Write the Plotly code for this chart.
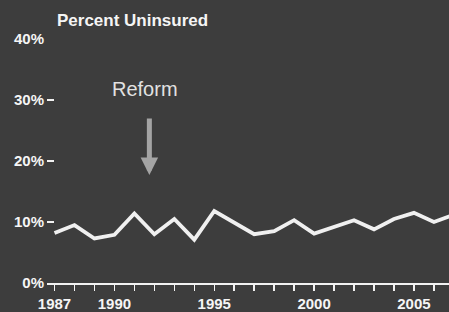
import plotly.graph_objects as go

years = list(range(1987, 2008))
uninsured_pct = [8.2, 9.5, 7.3, 7.9, 11.4, 8.0, 10.5, 7.1, 11.8, 9.9, 8.0,
                 8.5, 10.3, 8.1, 9.2, 10.3, 8.8, 10.5, 11.5, 10.0, 11.2]
x_tick_vals = [1987, 1990, 1995, 2000, 2005]
x_tick_text = ["1987", "1990", "1995", "2000", "2005"]
y_tick_vals = [0, 10, 20, 30, 40]
y_tick_text = ["0%", "10%", "20%", "30%", "40%"]
title_text = "Percent Uninsured"
reform_label = "Reform"
reform_year = 1991.75

FONT = "Liberation Sans, Arial, Helvetica, sans-serif"
BG = "#3d3d3d"

fig = go.Figure()
fig.add_trace(go.Scatter(
    x=years, y=uninsured_pct, mode="lines",
    line=dict(color="#f0f0f0", width=3.8), hoverinfo="skip", showlegend=False,
))

fig.update_layout(
    width=449, height=312,
    margin=dict(l=47, r=0, t=39, b=29, pad=0),
    paper_bgcolor=BG, plot_bgcolor=BG,
    font=dict(family=FONT, color="#f5f5f5"),
    xaxis=dict(
        range=[1986.624, 2006.755], showgrid=False, zeroline=False,
        showline=True, linecolor="#f2f2f2", linewidth=2,
        tickmode="array", tickvals=x_tick_vals, ticktext=x_tick_text,
        ticks="outside", ticklen=6, tickwidth=1.5, tickcolor="#f2f2f2",
        tickfont=dict(family=FONT, size=15, color="#f5f5f5", weight="bold"),
        minor=dict(dtick=1, tick0=1987, ticks="outside", ticklen=6,
                   tickwidth=1.5, tickcolor="#f2f2f2", showgrid=False),
        fixedrange=True,
    ),
    yaxis=dict(
        range=[0, 40], showgrid=False, zeroline=False, showline=False,
        tickmode="array", tickvals=y_tick_vals, ticktext=y_tick_text,
        ticks="inside", ticklen=7, tickwidth=1.5, tickcolor="#f2f2f2",
        ticklabelstandoff=2,
        tickfont=dict(family=FONT, size=15, color="#f5f5f5", weight="bold"),
        fixedrange=True,
    ),
    annotations=[
        dict(text=title_text, xref="paper", yref="paper",
             x=(55 - 47) / 402, y=1 + (39 - 20) / 244,
             xanchor="left", yanchor="middle", showarrow=False,
             font=dict(family=FONT, size=17, color="#f5f5f5", weight="bold")),
        dict(text=reform_label, x=1991.53, y=31.8, xref="x", yref="y",
             xanchor="center", yanchor="middle", showarrow=False,
             font=dict(family=FONT, size=20, color="#e2e2e2")),
        dict(text="", x=reform_year, y=17.7, xref="x", yref="y",
             ax=0, ay=-58, showarrow=True, arrowhead=2, arrowsize=0.7,
             arrowwidth=5, arrowcolor="#a4a4a4", standoff=0, startstandoff=0),
    ],
)

fig.write_html(
    "out.html",
    config={"displayModeBar": False, "staticPlot": True},
    post_script="document.body.style.margin='0';document.body.style.background='#3d3d3d';",
)
